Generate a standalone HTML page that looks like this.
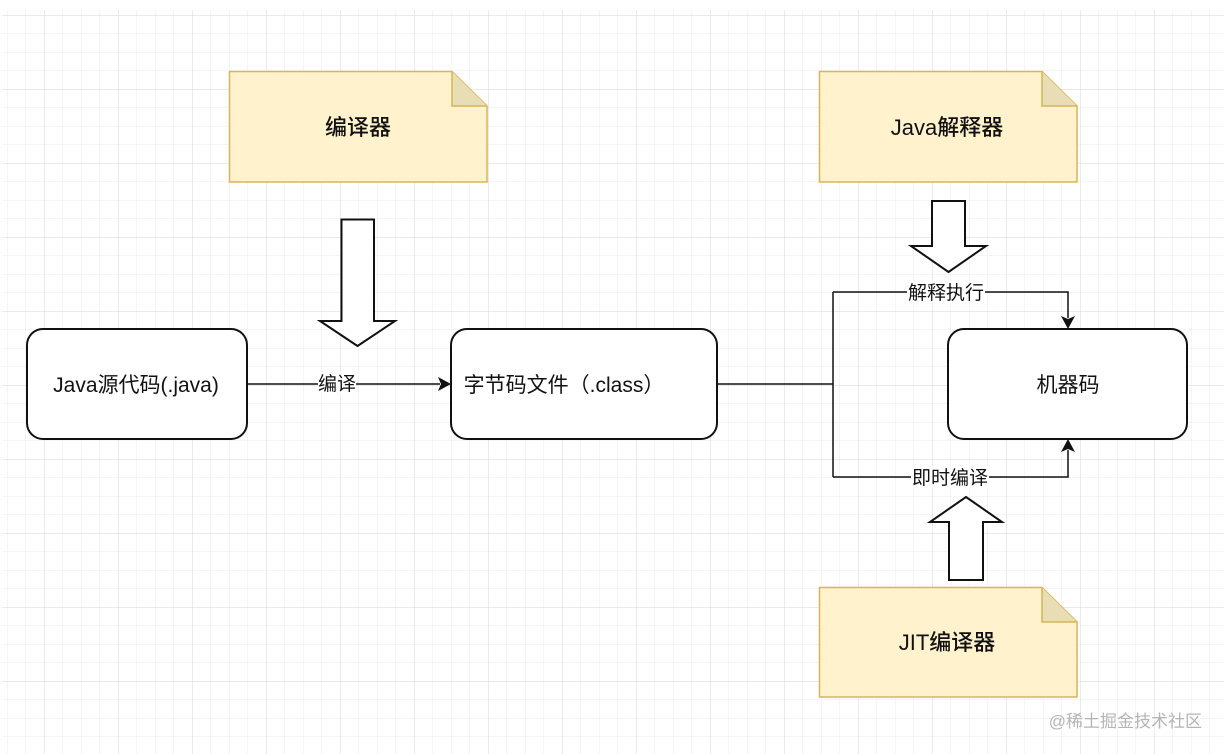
<!DOCTYPE html>
<html><head><meta charset="utf-8"><style>
html,body{margin:0;padding:0;background:#fff;}
svg{display:block;}
text{font-family:"Liberation Sans","Noto Sans CJK SC",sans-serif;fill:#111;}
</style></head><body>
<svg width="1224" height="754" xmlns="http://www.w3.org/2000/svg">
<defs>
<pattern id="minor" x="7" y="15" width="18.5" height="18.5" patternUnits="userSpaceOnUse">
<path d="M0 0H18.5M0 0V18.5" stroke="#ebebeb" stroke-width="1" fill="none"/>
</pattern>
<pattern id="major" x="44" y="15" width="74" height="74" patternUnits="userSpaceOnUse">
<path d="M0 0H74M0 0V74" stroke="#d4d4d4" stroke-width="1" fill="none"/>
</pattern>
</defs>
<rect x="2" y="10" width="1222" height="744" fill="url(#minor)"/>
<rect x="2" y="10" width="1222" height="744" fill="url(#major)"/>

<g stroke="#d6b656" stroke-width="1.5">
<path d="M229.5 71.5H452L487 106V182H229.5Z" fill="#fff2cc"/>
<path d="M452 71.5V106H487" fill="#e9ddb5"/>
<path d="M819.5 71.5H1042L1077 106V182H819.5Z" fill="#fff2cc"/>
<path d="M1042 71.5V106H1077" fill="#e9ddb5"/>
<path d="M819.5 587.5H1042L1077 622V697H819.5Z" fill="#fff2cc"/>
<path d="M1042 587.5V622H1077" fill="#e9ddb5"/>
</g>
<g font-size="22" font-weight="bold" text-anchor="middle" style="font-weight:500">
<text x="358" y="135">编译器</text>
<text x="947" y="135">Java解释器</text>
<text x="947" y="650">JIT编译器</text>
</g>

<g fill="#fff" stroke="#111" stroke-width="2">
<path d="M341.5 219.5H374V321H395L357.5 346L320 321H341.5Z"/>
<path d="M932 201H965V246H986L948.5 272L911 246H932Z"/>
<path d="M949 580H983V522H1002L966 497L930 522H949Z"/>
</g>

<g fill="#fff" stroke="#111" stroke-width="2">
<rect x="27" y="329" width="220" height="110" rx="16"/>
<rect x="451" y="329" width="266" height="110" rx="16"/>
<rect x="948" y="329" width="239" height="110" rx="16"/>
</g>
<g font-size="21" text-anchor="middle">
<text x="136" y="392">Java源代码(.java)</text>
<text x="564" y="392">字节码文件（.class）</text>
<text x="1068" y="392">机器码</text>
</g>

<g fill="none" stroke="#111" stroke-width="1.5">
<path d="M247 384H440"/>
<path d="M717 384H833M833 292V477M833 292H1068V318M833 477H1068V450"/>
</g>
<g fill="#111">
<path d="M451 384L438 377L441 384L438 391Z"/>
<path d="M1068 329L1061 316L1068 319L1075 316Z"/>
<path d="M1068 439L1061 452L1068 449L1075 452Z"/>
</g>
<rect x="318" y="372" width="38" height="22" fill="#fff"/>
<text x="337" y="390" font-size="19" text-anchor="middle">编译</text>
<rect x="907" y="281" width="78" height="22" fill="#fff"/>
<text x="946" y="299" font-size="19" text-anchor="middle">解释执行</text>
<rect x="911" y="466" width="78" height="22" fill="#fff"/>
<text x="950" y="484" font-size="19" text-anchor="middle">即时编译</text>

<text x="1202" y="727" font-size="17" text-anchor="end" style="fill:#b5b5b5">@稀土掘金技术社区</text>
</svg>
</body></html>
